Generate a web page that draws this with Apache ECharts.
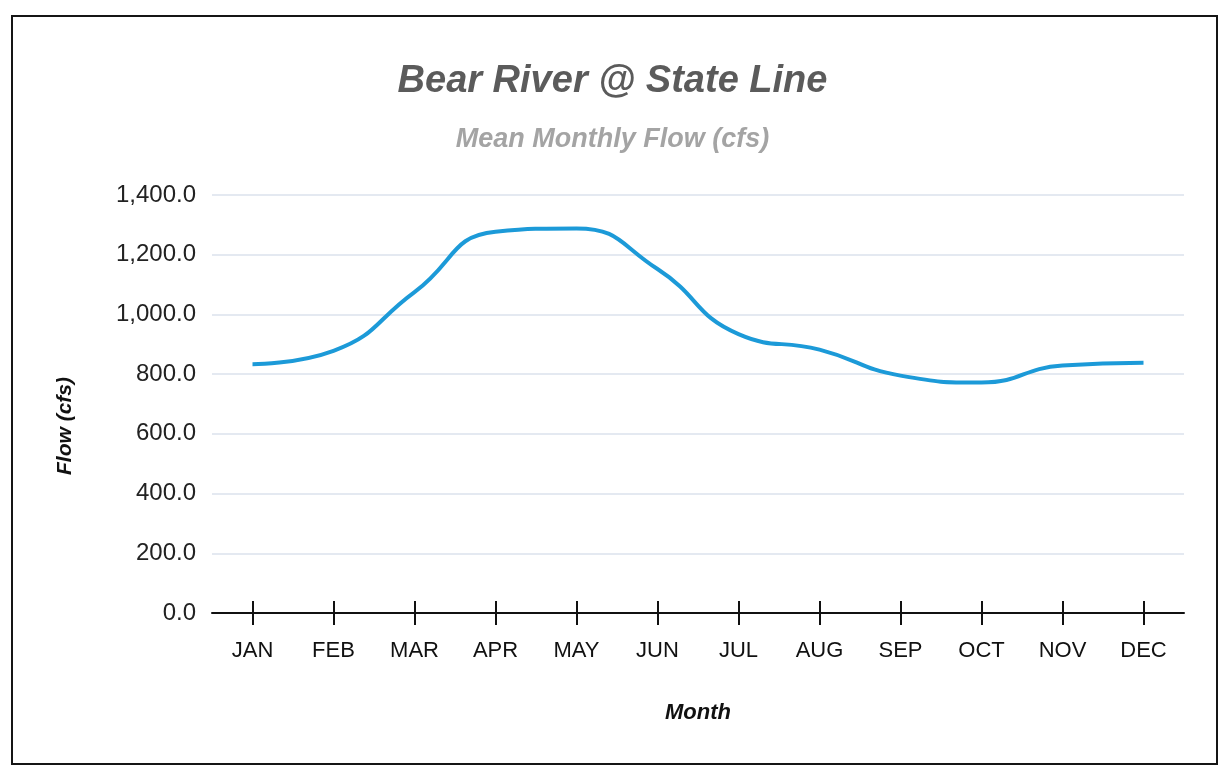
<!DOCTYPE html>
<html>
<head>
<meta charset="utf-8">
<title>Bear River @ State Line</title>
<script src="https://cdn.jsdelivr.net/npm/echarts@6/dist/echarts.min.js"></script>
<style>
  html, body { margin: 0; padding: 0; background: #fff; }
  #chart { width: 1225px; height: 783px; }
</style>
</head>
<body>
<div id="chart"></div>
<script>
  /******************/
  //region    //data

  const months = ['JAN', 'FEB', 'MAR', 'APR', 'MAY', 'JUN', 'JUL', 'AUG', 'SEP', 'OCT', 'NOV', 'DEC'];
  const meanFlow = [833, 878, 1075, 1277, 1288, 1152, 934, 882, 795, 772, 829, 838];
  const flowMin = 0;
  const flowMax = 1400;
  const flowStep = 200;

  //endregion

  /******************/
  //region    //chart

  const FONT = '"Liberation Sans", Arial, sans-serif';
  const gridBox = {left: 212, right: 41, top: 195, bottom: 170};

  function fmtFlow(v) {
    return v.toLocaleString('en-US', {minimumFractionDigits: 1, maximumFractionDigits: 1});
  }

  function drawChart() {
    let chart = echarts.init(document.getElementById('chart'));
    let tickStyle = {color: '#111', width: 2};
    let option = {
      backgroundColor: '#fff',
      animation: false,
      title: [
        {
          text: 'Bear River @ State Line',
          left: 'center', top: 58,
          textStyle: {fontFamily: FONT, fontSize: 38, fontWeight: 'bold', fontStyle: 'italic', color: '#5b5b5b'}
        },
        {
          text: 'Mean Monthly Flow (cfs)',
          left: 'center', top: 121,
          textStyle: {fontFamily: FONT, fontSize: 27, fontWeight: 'bold', fontStyle: 'italic', color: '#a4a4a4'}
        }
      ],
      // outer frame
      graphic: [{
        type: 'rect',
        shape: {x: 12, y: 16, width: 1205, height: 748},
        style: {fill: null, stroke: '#151515', lineWidth: 2},
        silent: true
      }],
      grid: [
        Object.assign({}, gridBox),
        Object.assign({}, gridBox)
      ],
      xAxis: [
        {
          type: 'category', gridIndex: 0, data: months,
          name: 'Month', nameLocation: 'middle', nameGap: 89,
          nameTextStyle: {fontFamily: FONT, fontSize: 22, fontWeight: 'bold', fontStyle: 'italic', color: '#111'},
          axisLine: {show: true, lineStyle: {color: '#111', width: 2}},
          axisTick: {show: true, alignWithLabel: true, length: 12, lineStyle: tickStyle},
          axisLabel: {fontFamily: FONT, fontSize: 22, color: '#111', margin: 27},
          splitLine: {show: false}
        },
        {
          // upper half of the crossing tick marks
          type: 'category', gridIndex: 1, data: months,
          axisLine: {show: false},
          axisTick: {show: true, alignWithLabel: true, inside: true, length: 12, lineStyle: tickStyle},
          axisLabel: {show: false},
          splitLine: {show: false}
        }
      ],
      yAxis: [
        {
          type: 'value', gridIndex: 0,
          min: flowMin, max: flowMax, interval: flowStep,
          name: 'Flow (cfs)', nameLocation: 'middle', nameGap: 136, nameRotate: 90,
          nameTextStyle: {
            fontFamily: FONT, fontSize: 21, fontWeight: 'bold', fontStyle: 'italic', color: '#111',
            padding: [0, 44, 0, 0]
          },
          axisLine: {show: false},
          axisTick: {show: false},
          axisLabel: {fontFamily: FONT, fontSize: 24, color: '#222', margin: 16, formatter: fmtFlow},
          splitLine: {lineStyle: {color: '#dbe2ec', width: 1.5}}
        },
        {
          type: 'value', gridIndex: 1,
          min: flowMin, max: flowMax, interval: flowStep,
          axisLine: {show: false},
          axisTick: {show: false},
          axisLabel: {show: false},
          splitLine: {show: false}
        }
      ],
      series: [
        {
          name: 'Mean Monthly Flow',
          type: 'line',
          xAxisIndex: 0, yAxisIndex: 0,
          data: meanFlow,
          smooth: 0.5,
          showSymbol: false,
          lineStyle: {color: '#1c9ad8', width: 4},
          z: 3
        }
      ]
    };
    chart.setOption(option);
  }

  drawChart();

  //endregion
</script>
</body>
</html>
